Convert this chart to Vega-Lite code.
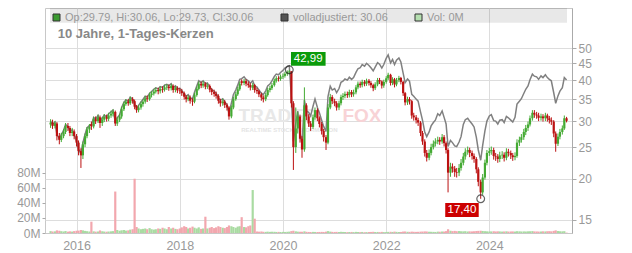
{
"$schema": "https://vega.github.io/schema/vega-lite/v6.json",
"width": 527, "height": 225,
"autosize": {"type": "none"},
"padding": {"left": 45, "top": 8, "right": 60, "bottom": 20},
"background": "white",
"config": {"view": {"stroke": "#c8c8c8"}, "font": "Liberation Sans", "axis": {"labelFont": "Liberation Sans", "labelColor": "#999", "labelFontSize": 12}},
"datasets": {
"p": [
{"d":"2015-07-01","o":29.3,"h":30.4,"l":28.6,"c":29.7,"a":30.0,"v":2.5},
{"d":"2015-07-15","o":29.7,"h":30.3,"l":28.4,"c":29.0,"a":29.3,"v":2.0},
{"d":"2015-08-01","o":29.0,"h":30.0,"l":28.5,"c":29.5,"a":29.8,"v":2.2},
{"d":"2015-08-15","o":29.5,"h":29.8,"l":26.2,"c":27.0,"a":27.3,"v":3.5},
{"d":"2015-09-01","o":27.0,"h":27.6,"l":25.5,"c":26.3,"a":26.6,"v":3.0},
{"d":"2015-09-15","o":26.3,"h":27.6,"l":25.9,"c":27.0,"a":27.3,"v":2.4},
{"d":"2015-10-01","o":27.0,"h":28.4,"l":26.6,"c":27.8,"a":28.1,"v":2.0},
{"d":"2015-10-15","o":27.8,"h":29.6,"l":27.4,"c":29.0,"a":29.3,"v":2.6},
{"d":"2015-11-01","o":29.0,"h":29.6,"l":28.0,"c":28.6,"a":28.9,"v":1.8},
{"d":"2015-11-15","o":28.6,"h":29.0,"l":27.0,"c":27.6,"a":27.9,"v":2.2},
{"d":"2015-12-01","o":27.6,"h":28.6,"l":27.0,"c":27.9,"a":28.2,"v":1.9},
{"d":"2015-12-15","o":27.9,"h":28.3,"l":26.4,"c":27.0,"a":27.3,"v":2.5},
{"d":"2016-01-01","o":27.0,"h":27.4,"l":25.1,"c":25.8,"a":26.1,"v":3.0},
{"d":"2016-01-15","o":25.8,"h":26.2,"l":23.6,"c":24.3,"a":24.6,"v":3.2},
{"d":"2016-02-01","o":24.3,"h":24.8,"l":21.6,"c":23.6,"a":23.9,"v":4.0},
{"d":"2016-02-15","o":23.6,"h":26.0,"l":23.0,"c":25.5,"a":25.8,"v":3.5},
{"d":"2016-03-01","o":25.5,"h":27.5,"l":25.0,"c":27.0,"a":27.3,"v":2.8},
{"d":"2016-03-15","o":27.0,"h":28.8,"l":26.6,"c":28.3,"a":28.6,"v":2.4},
{"d":"2016-04-01","o":28.3,"h":29.4,"l":27.6,"c":28.8,"a":29.1,"v":2.0},
{"d":"2016-04-15","o":29.4,"h":29.9,"l":28.2,"c":28.9,"a":29.2,"v":15},
{"d":"2016-05-01","o":28.9,"h":30.9,"l":28.5,"c":30.4,"a":30.8,"v":2.2},
{"d":"2016-05-15","o":30.4,"h":31.0,"l":29.4,"c":30.0,"a":30.4,"v":1.8},
{"d":"2016-06-01","o":30.0,"h":31.4,"l":29.6,"c":30.8,"a":31.2,"v":2.0},
{"d":"2016-06-15","o":30.8,"h":31.2,"l":28.6,"c":29.6,"a":30.0,"v":3.4},
{"d":"2016-07-01","o":29.6,"h":30.9,"l":29.0,"c":30.3,"a":30.7,"v":2.3},
{"d":"2016-07-15","o":30.3,"h":31.5,"l":29.8,"c":30.9,"a":31.3,"v":1.9},
{"d":"2016-08-01","o":30.9,"h":31.4,"l":29.9,"c":30.5,"a":30.9,"v":1.7},
{"d":"2016-08-15","o":30.5,"h":31.8,"l":30.0,"c":31.2,"a":31.6,"v":2.0},
{"d":"2016-09-01","o":31.2,"h":32.3,"l":30.7,"c":31.6,"a":32.0,"v":2.2},
{"d":"2016-09-15","o":31.6,"h":32.6,"l":31.0,"c":32.0,"a":32.4,"v":2.5},
{"d":"2016-10-01","o":32.0,"h":32.3,"l":29.0,"c":29.5,"a":29.9,"v":55},
{"d":"2016-10-15","o":29.5,"h":30.9,"l":29.0,"c":30.3,"a":30.7,"v":4.0},
{"d":"2016-11-01","o":30.3,"h":31.6,"l":29.8,"c":31.0,"a":31.4,"v":3.0},
{"d":"2016-11-15","o":31.0,"h":33.2,"l":30.5,"c":32.6,"a":33.0,"v":3.6},
{"d":"2016-12-01","o":32.6,"h":34.4,"l":32.2,"c":33.8,"a":34.2,"v":4.0},
{"d":"2016-12-15","o":33.8,"h":35.0,"l":33.4,"c":34.4,"a":34.8,"v":3.2},
{"d":"2017-01-01","o":34.4,"h":35.0,"l":33.4,"c":34.0,"a":34.5,"v":3.5},
{"d":"2017-01-15","o":34.0,"h":35.6,"l":33.6,"c":35.0,"a":35.5,"v":4.5},
{"d":"2017-02-01","o":35.0,"h":35.5,"l":33.9,"c":34.5,"a":35.0,"v":5.0},
{"d":"2017-02-15","o":34.5,"h":34.9,"l":32.6,"c":33.2,"a":33.7,"v":72},
{"d":"2017-03-01","o":33.2,"h":33.6,"l":31.8,"c":32.4,"a":32.9,"v":8.0},
{"d":"2017-03-15","o":32.4,"h":33.6,"l":31.9,"c":33.0,"a":33.5,"v":6.0},
{"d":"2017-04-01","o":33.0,"h":34.4,"l":32.5,"c":33.8,"a":34.3,"v":5.0},
{"d":"2017-04-15","o":33.8,"h":35.0,"l":33.2,"c":34.4,"a":34.9,"v":5.5},
{"d":"2017-05-01","o":34.4,"h":35.8,"l":33.9,"c":35.2,"a":35.7,"v":6.0},
{"d":"2017-05-15","o":35.2,"h":35.9,"l":34.3,"c":35.0,"a":35.5,"v":5.0},
{"d":"2017-06-01","o":35.0,"h":36.6,"l":34.6,"c":36.0,"a":36.5,"v":6.5},
{"d":"2017-06-15","o":36.0,"h":37.0,"l":35.4,"c":36.4,"a":36.9,"v":5.0},
{"d":"2017-07-01","o":36.4,"h":37.6,"l":35.9,"c":36.9,"a":37.5,"v":4.5},
{"d":"2017-07-15","o":36.9,"h":38.0,"l":36.4,"c":37.3,"a":37.9,"v":5.0},
{"d":"2017-08-01","o":37.3,"h":37.9,"l":36.2,"c":37.0,"a":37.6,"v":6.0},
{"d":"2017-08-15","o":37.0,"h":38.3,"l":36.4,"c":37.6,"a":38.2,"v":5.5},
{"d":"2017-09-01","o":37.6,"h":38.3,"l":36.6,"c":37.4,"a":38.0,"v":7.0},
{"d":"2017-09-15","o":37.4,"h":38.7,"l":36.9,"c":38.0,"a":38.6,"v":6.0},
{"d":"2017-10-01","o":38.0,"h":38.9,"l":37.3,"c":38.2,"a":38.8,"v":5.0},
{"d":"2017-10-15","o":38.2,"h":38.8,"l":37.1,"c":37.8,"a":38.4,"v":8.0},
{"d":"2017-11-01","o":37.8,"h":39.0,"l":37.2,"c":38.4,"a":39.0,"v":6.0},
{"d":"2017-11-15","o":38.4,"h":38.8,"l":36.6,"c":37.3,"a":37.9,"v":7.0},
{"d":"2017-12-01","o":37.3,"h":38.4,"l":36.7,"c":37.8,"a":38.4,"v":5.5},
{"d":"2017-12-15","o":37.8,"h":38.3,"l":36.5,"c":37.2,"a":37.8,"v":5.0},
{"d":"2018-01-01","o":37.2,"h":37.9,"l":36.3,"c":37.0,"a":37.7,"v":6.0},
{"d":"2018-01-15","o":37.0,"h":37.6,"l":35.8,"c":36.5,"a":37.2,"v":7.5},
{"d":"2018-02-01","o":36.5,"h":36.9,"l":34.9,"c":35.6,"a":36.3,"v":9.0},
{"d":"2018-02-15","o":35.6,"h":36.0,"l":34.2,"c":35.0,"a":35.7,"v":8.0},
{"d":"2018-03-01","o":35.0,"h":36.0,"l":34.5,"c":35.4,"a":36.1,"v":6.0},
{"d":"2018-03-15","o":35.4,"h":35.9,"l":33.9,"c":34.6,"a":35.3,"v":7.0},
{"d":"2018-04-01","o":34.6,"h":35.2,"l":33.4,"c":34.4,"a":35.1,"v":8.5},
{"d":"2018-04-15","o":34.4,"h":36.6,"l":34.0,"c":36.0,"a":36.7,"v":7.0},
{"d":"2018-05-01","o":36.0,"h":38.2,"l":35.6,"c":37.6,"a":38.4,"v":6.0},
{"d":"2018-05-15","o":37.6,"h":39.6,"l":37.2,"c":39.0,"a":39.8,"v":7.5},
{"d":"2018-06-01","o":39.0,"h":39.6,"l":37.8,"c":38.5,"a":39.3,"v":5.5},
{"d":"2018-06-15","o":38.5,"h":39.7,"l":37.9,"c":39.0,"a":39.8,"v":6.0},
{"d":"2018-07-01","o":39.0,"h":39.4,"l":37.5,"c":38.2,"a":39.0,"v":21.6},
{"d":"2018-07-15","o":38.2,"h":39.1,"l":37.6,"c":38.4,"a":39.2,"v":6.0},
{"d":"2018-08-01","o":38.4,"h":38.8,"l":36.7,"c":37.4,"a":38.1,"v":7.0},
{"d":"2018-08-15","o":37.4,"h":37.8,"l":36.0,"c":36.8,"a":37.5,"v":8.0},
{"d":"2018-09-01","o":36.8,"h":37.4,"l":35.6,"c":36.3,"a":37.0,"v":6.5},
{"d":"2018-09-15","o":36.3,"h":36.9,"l":35.1,"c":35.8,"a":36.5,"v":7.5},
{"d":"2018-10-01","o":35.8,"h":36.2,"l":33.9,"c":34.6,"a":35.3,"v":9.0},
{"d":"2018-10-15","o":34.6,"h":35.1,"l":33.2,"c":34.0,"a":34.7,"v":8.0},
{"d":"2018-11-01","o":34.0,"h":35.1,"l":33.4,"c":34.4,"a":35.1,"v":7.0},
{"d":"2018-11-15","o":34.4,"h":34.8,"l":32.9,"c":33.6,"a":34.3,"v":6.5},
{"d":"2018-12-01","o":33.6,"h":34.0,"l":32.3,"c":33.0,"a":33.7,"v":8.0},
{"d":"2018-12-15","o":33.0,"h":33.3,"l":30.3,"c":31.0,"a":31.6,"v":10.0},
{"d":"2019-01-01","o":31.0,"h":33.5,"l":30.6,"c":33.0,"a":34.0,"v":9.0},
{"d":"2019-01-15","o":33.0,"h":35.6,"l":32.6,"c":35.0,"a":36.1,"v":8.0},
{"d":"2019-02-01","o":35.0,"h":36.8,"l":34.6,"c":36.2,"a":37.3,"v":7.0},
{"d":"2019-02-15","o":36.2,"h":38.1,"l":35.8,"c":37.5,"a":38.6,"v":8.5},
{"d":"2019-03-01","o":37.5,"h":39.6,"l":37.1,"c":39.0,"a":40.2,"v":9.0},
{"d":"2019-03-15","o":39.7,"h":40.2,"l":38.5,"c":39.2,"a":40.4,"v":21},
{"d":"2019-04-01","o":39.2,"h":40.3,"l":38.6,"c":39.7,"a":40.9,"v":8.0},
{"d":"2019-04-15","o":39.7,"h":40.2,"l":38.3,"c":39.0,"a":40.2,"v":7.5},
{"d":"2019-05-01","o":39.0,"h":39.6,"l":37.9,"c":38.6,"a":39.8,"v":9.0},
{"d":"2019-05-15","o":38.6,"h":39.1,"l":37.2,"c":38.0,"a":39.1,"v":10.0},
{"d":"2019-06-01","o":37.9,"h":39.2,"l":37.3,"c":38.6,"a":39.8,"v":57},
{"d":"2019-06-15","o":38.6,"h":38.9,"l":36.6,"c":37.3,"a":38.4,"v":19},
{"d":"2019-07-01","o":37.3,"h":37.9,"l":36.3,"c":37.0,"a":38.1,"v":2.0},
{"d":"2019-07-15","o":37.0,"h":37.4,"l":35.5,"c":36.2,"a":37.3,"v":1.8},
{"d":"2019-08-01","o":36.2,"h":36.6,"l":34.6,"c":35.4,"a":36.5,"v":2.0},
{"d":"2019-08-15","o":35.4,"h":35.9,"l":34.2,"c":35.0,"a":36.1,"v":1.6},
{"d":"2019-09-01","o":35.0,"h":36.6,"l":34.5,"c":36.0,"a":37.1,"v":1.5},
{"d":"2019-09-15","o":36.0,"h":37.9,"l":35.6,"c":37.3,"a":38.4,"v":1.8},
{"d":"2019-10-01","o":37.3,"h":38.4,"l":36.7,"c":37.8,"a":38.9,"v":1.5},
{"d":"2019-10-15","o":37.8,"h":39.2,"l":37.3,"c":38.6,"a":39.8,"v":1.7},
{"d":"2019-11-01","o":38.6,"h":40.4,"l":38.2,"c":39.8,"a":41.0,"v":1.6},
{"d":"2019-11-15","o":39.8,"h":41.1,"l":39.3,"c":40.5,"a":41.7,"v":1.4},
{"d":"2019-12-01","o":40.5,"h":41.1,"l":39.6,"c":40.3,"a":41.5,"v":1.5},
{"d":"2019-12-15","o":40.3,"h":41.6,"l":39.8,"c":41.0,"a":42.2,"v":1.3},
{"d":"2020-01-01","o":41.0,"h":41.9,"l":40.3,"c":41.2,"a":42.8,"v":1.5},
{"d":"2020-01-15","o":41.2,"h":42.4,"l":40.7,"c":41.8,"a":43.5,"v":1.4},
{"d":"2020-02-01","o":41.8,"h":42.8,"l":41.2,"c":42.3,"a":44.0,"v":1.6},
{"d":"2020-02-15","o":42.3,"h":42.99,"l":41.6,"c":42.5,"a":44.2,"v":1.8},
{"d":"2020-03-01","o":42.5,"h":42.6,"l":33.0,"c":34.0,"a":35.4,"v":2.5},
{"d":"2020-03-15","o":34.0,"h":34.5,"l":21.3,"c":25.0,"a":26.0,"v":3.0},
{"d":"2020-04-01","o":25.0,"h":33.0,"l":24.0,"c":28.5,"a":29.6,"v":2.2},
{"d":"2020-04-15","o":28.5,"h":32.0,"l":27.5,"c":31.0,"a":32.2,"v":1.8},
{"d":"2020-05-01","o":31.0,"h":31.4,"l":25.8,"c":26.5,"a":27.6,"v":1.6},
{"d":"2020-05-15","o":26.5,"h":27.0,"l":23.2,"c":24.6,"a":25.6,"v":1.7},
{"d":"2020-06-01","o":24.6,"h":38.0,"l":24.2,"c":33.5,"a":34.8,"v":2.2},
{"d":"2020-06-15","o":33.5,"h":34.0,"l":30.2,"c":31.0,"a":32.2,"v":1.6},
{"d":"2020-07-01","o":31.0,"h":31.5,"l":28.8,"c":29.5,"a":31.9,"v":1.4},
{"d":"2020-07-15","o":29.5,"h":30.0,"l":28.0,"c":28.8,"a":31.1,"v":1.3},
{"d":"2020-08-01","o":28.8,"h":31.4,"l":28.4,"c":30.8,"a":33.3,"v":1.5},
{"d":"2020-08-15","o":30.8,"h":33.0,"l":30.3,"c":32.4,"a":35.0,"v":1.4},
{"d":"2020-09-01","o":32.4,"h":32.8,"l":30.0,"c":30.6,"a":33.0,"v":1.3},
{"d":"2020-09-15","o":30.6,"h":31.0,"l":28.7,"c":29.4,"a":31.8,"v":1.4},
{"d":"2020-10-01","o":29.4,"h":29.8,"l":27.3,"c":28.0,"a":30.2,"v":1.5},
{"d":"2020-10-15","o":28.0,"h":28.4,"l":26.0,"c":26.8,"a":28.9,"v":1.4},
{"d":"2020-11-01","o":26.8,"h":27.2,"l":24.5,"c":25.8,"a":27.9,"v":1.8},
{"d":"2020-11-15","o":25.8,"h":33.8,"l":25.5,"c":33.0,"a":35.6,"v":2.5},
{"d":"2020-12-01","o":33.0,"h":36.3,"l":32.6,"c":35.5,"a":38.3,"v":1.8},
{"d":"2020-12-15","o":35.5,"h":36.0,"l":33.8,"c":34.5,"a":37.3,"v":1.5},
{"d":"2021-01-01","o":34.5,"h":35.1,"l":33.3,"c":34.0,"a":37.7,"v":1.4},
{"d":"2021-01-15","o":34.0,"h":34.5,"l":32.3,"c":33.0,"a":36.6,"v":1.5},
{"d":"2021-02-01","o":33.0,"h":34.6,"l":32.4,"c":34.0,"a":37.7,"v":1.3},
{"d":"2021-02-15","o":34.0,"h":36.1,"l":33.5,"c":35.5,"a":39.4,"v":1.6},
{"d":"2021-03-01","o":35.5,"h":36.5,"l":34.8,"c":35.8,"a":39.7,"v":1.4},
{"d":"2021-03-15","o":35.8,"h":36.9,"l":35.2,"c":36.3,"a":40.3,"v":1.3},
{"d":"2021-04-01","o":36.3,"h":36.9,"l":35.3,"c":36.0,"a":40.0,"v":1.2},
{"d":"2021-04-15","o":36.0,"h":37.4,"l":35.4,"c":36.8,"a":40.8,"v":1.3},
{"d":"2021-05-01","o":36.8,"h":37.3,"l":35.5,"c":36.2,"a":40.2,"v":1.4},
{"d":"2021-05-15","o":36.2,"h":37.4,"l":35.6,"c":36.7,"a":40.7,"v":1.2},
{"d":"2021-06-01","o":36.7,"h":38.6,"l":36.2,"c":38.0,"a":42.2,"v":1.5},
{"d":"2021-06-15","o":38.0,"h":39.6,"l":37.5,"c":39.0,"a":43.3,"v":1.3},
{"d":"2021-07-01","o":39.0,"h":39.6,"l":37.9,"c":38.6,"a":43.6,"v":1.2},
{"d":"2021-07-15","o":38.6,"h":40.1,"l":38.0,"c":39.5,"a":44.6,"v":1.4},
{"d":"2021-08-01","o":39.5,"h":40.0,"l":38.3,"c":39.0,"a":44.1,"v":1.1},
{"d":"2021-08-15","o":39.0,"h":40.4,"l":38.4,"c":39.8,"a":45.0,"v":1.2},
{"d":"2021-09-01","o":39.8,"h":40.3,"l":38.5,"c":39.2,"a":44.3,"v":1.3},
{"d":"2021-09-15","o":39.2,"h":39.7,"l":37.9,"c":38.6,"a":43.6,"v":1.4},
{"d":"2021-10-01","o":38.6,"h":39.0,"l":37.0,"c":37.8,"a":42.7,"v":1.6},
{"d":"2021-10-15","o":37.8,"h":39.4,"l":37.3,"c":38.8,"a":43.8,"v":1.3},
{"d":"2021-11-01","o":38.8,"h":40.6,"l":38.3,"c":40.0,"a":45.2,"v":1.4},
{"d":"2021-11-15","o":40.0,"h":40.6,"l":38.9,"c":39.6,"a":44.7,"v":1.2},
{"d":"2021-12-01","o":39.6,"h":39.9,"l":37.7,"c":38.5,"a":43.5,"v":1.5},
{"d":"2021-12-15","o":38.5,"h":40.1,"l":37.9,"c":39.5,"a":44.6,"v":1.2},
{"d":"2022-01-01","o":39.5,"h":41.1,"l":39.0,"c":40.5,"a":46.6,"v":1.3},
{"d":"2022-01-15","o":40.5,"h":42.1,"l":40.0,"c":41.5,"a":47.7,"v":1.5},
{"d":"2022-02-01","o":41.5,"h":41.8,"l":38.5,"c":39.2,"a":45.1,"v":1.6},
{"d":"2022-02-15","o":39.2,"h":40.8,"l":38.6,"c":40.2,"a":46.2,"v":1.4},
{"d":"2022-03-01","o":40.2,"h":40.6,"l":38.0,"c":38.8,"a":44.6,"v":1.8},
{"d":"2022-03-15","o":38.8,"h":40.6,"l":38.3,"c":40.0,"a":46.0,"v":1.5},
{"d":"2022-04-01","o":40.0,"h":41.2,"l":39.4,"c":40.6,"a":46.7,"v":1.3},
{"d":"2022-04-15","o":40.6,"h":40.9,"l":38.8,"c":39.5,"a":45.4,"v":1.4},
{"d":"2022-05-01","o":39.5,"h":39.8,"l":35.8,"c":36.5,"a":42.0,"v":1.9},
{"d":"2022-05-15","o":36.5,"h":36.8,"l":33.5,"c":34.2,"a":39.3,"v":2.0},
{"d":"2022-06-01","o":34.2,"h":35.6,"l":33.6,"c":35.0,"a":40.3,"v":1.6},
{"d":"2022-06-15","o":35.0,"h":35.5,"l":33.7,"c":34.5,"a":39.7,"v":1.5},
{"d":"2022-07-01","o":34.5,"h":34.8,"l":30.5,"c":31.2,"a":36.2,"v":1.8},
{"d":"2022-07-15","o":31.2,"h":31.8,"l":30.1,"c":30.8,"a":35.7,"v":1.6},
{"d":"2022-08-01","o":30.8,"h":31.3,"l":29.5,"c":30.2,"a":35.0,"v":1.5},
{"d":"2022-08-15","o":30.2,"h":30.7,"l":29.0,"c":29.7,"a":34.5,"v":1.6},
{"d":"2022-09-01","o":29.7,"h":30.0,"l":27.0,"c":27.6,"a":32.0,"v":1.8},
{"d":"2022-09-15","o":27.6,"h":28.0,"l":25.4,"c":26.0,"a":30.2,"v":1.9},
{"d":"2022-10-01","o":26.0,"h":26.4,"l":23.4,"c":24.0,"a":27.8,"v":2.1},
{"d":"2022-10-15","o":24.0,"h":24.5,"l":22.6,"c":23.2,"a":26.9,"v":2.0},
{"d":"2022-11-01","o":23.2,"h":24.6,"l":22.8,"c":24.0,"a":27.8,"v":1.7},
{"d":"2022-11-15","o":24.0,"h":25.6,"l":23.6,"c":25.0,"a":29.0,"v":1.6},
{"d":"2022-12-01","o":25.0,"h":26.2,"l":24.6,"c":25.6,"a":29.7,"v":1.5},
{"d":"2022-12-15","o":25.6,"h":26.6,"l":25.1,"c":26.0,"a":30.2,"v":1.4},
{"d":"2023-01-01","o":26.0,"h":26.9,"l":25.5,"c":26.3,"a":31.6,"v":1.8},
{"d":"2023-01-15","o":26.3,"h":26.8,"l":25.4,"c":26.0,"a":31.2,"v":1.7},
{"d":"2023-02-01","o":26.0,"h":27.4,"l":25.6,"c":26.8,"a":32.2,"v":2.0},
{"d":"2023-02-15","o":26.8,"h":27.2,"l":25.1,"c":25.7,"a":30.8,"v":1.9},
{"d":"2023-03-01","o":25.7,"h":26.0,"l":23.9,"c":24.5,"a":29.4,"v":2.5},
{"d":"2023-03-15","o":24.5,"h":24.8,"l":18.2,"c":20.9,"a":25.1,"v":5.0},
{"d":"2023-04-01","o":20.9,"h":22.4,"l":20.3,"c":21.8,"a":26.2,"v":3.0},
{"d":"2023-04-15","o":21.8,"h":22.3,"l":20.9,"c":21.5,"a":25.8,"v":2.5},
{"d":"2023-05-01","o":21.5,"h":21.9,"l":20.3,"c":21.0,"a":25.2,"v":2.8},
{"d":"2023-05-15","o":21.0,"h":21.6,"l":20.2,"c":20.9,"a":25.1,"v":2.4},
{"d":"2023-06-01","o":20.9,"h":22.2,"l":20.4,"c":21.6,"a":25.9,"v":2.6},
{"d":"2023-06-15","o":21.6,"h":23.0,"l":21.2,"c":22.4,"a":26.9,"v":2.3},
{"d":"2023-07-01","o":22.4,"h":24.0,"l":22.0,"c":23.4,"a":29.3,"v":2.2},
{"d":"2023-07-15","o":23.4,"h":24.8,"l":22.9,"c":24.2,"a":30.3,"v":2.4},
{"d":"2023-08-01","o":24.2,"h":25.1,"l":23.7,"c":24.5,"a":30.6,"v":2.0},
{"d":"2023-08-15","o":24.5,"h":24.9,"l":23.3,"c":24.0,"a":30.0,"v":2.2},
{"d":"2023-09-01","o":24.0,"h":24.4,"l":22.9,"c":23.5,"a":29.4,"v":2.1},
{"d":"2023-09-15","o":23.5,"h":23.9,"l":22.4,"c":23.0,"a":28.8,"v":2.3},
{"d":"2023-10-01","o":23.0,"h":23.3,"l":20.8,"c":21.4,"a":26.8,"v":2.6},
{"d":"2023-10-15","o":21.4,"h":21.7,"l":19.0,"c":19.6,"a":24.5,"v":2.8},
{"d":"2023-11-01","o":19.6,"h":19.9,"l":17.4,"c":18.2,"a":22.8,"v":3.0},
{"d":"2023-11-15","o":18.2,"h":20.7,"l":17.9,"c":20.2,"a":25.3,"v":2.7},
{"d":"2023-12-01","o":20.2,"h":22.9,"l":19.9,"c":22.4,"a":28.0,"v":2.4},
{"d":"2023-12-15","o":22.4,"h":24.5,"l":22.0,"c":24.0,"a":30.0,"v":2.2},
{"d":"2024-01-01","o":24.0,"h":24.9,"l":23.5,"c":24.3,"a":31.1,"v":2.0},
{"d":"2024-01-15","o":24.3,"h":25.1,"l":23.7,"c":24.5,"a":31.4,"v":2.1},
{"d":"2024-02-01","o":24.5,"h":24.9,"l":22.9,"c":23.5,"a":30.1,"v":2.3},
{"d":"2024-02-15","o":23.5,"h":24.0,"l":22.7,"c":23.4,"a":30.0,"v":2.0},
{"d":"2024-03-01","o":23.4,"h":23.8,"l":22.4,"c":23.0,"a":29.4,"v":2.2},
{"d":"2024-03-15","o":23.0,"h":24.2,"l":22.5,"c":23.6,"a":30.2,"v":2.1},
{"d":"2024-04-01","o":23.6,"h":24.3,"l":23.0,"c":23.7,"a":30.3,"v":1.9},
{"d":"2024-04-15","o":23.7,"h":24.1,"l":22.6,"c":23.2,"a":29.7,"v":2.0},
{"d":"2024-05-01","o":23.2,"h":24.8,"l":22.8,"c":24.2,"a":31.0,"v":2.2},
{"d":"2024-05-15","o":24.2,"h":24.7,"l":23.4,"c":24.0,"a":30.7,"v":1.9},
{"d":"2024-06-01","o":24.0,"h":24.4,"l":23.0,"c":23.6,"a":30.2,"v":2.0},
{"d":"2024-06-15","o":23.6,"h":24.0,"l":22.7,"c":23.3,"a":29.8,"v":2.1},
{"d":"2024-07-01","o":23.3,"h":24.1,"l":22.8,"c":23.5,"a":30.8,"v":1.9},
{"d":"2024-07-15","o":23.5,"h":26.4,"l":23.2,"c":25.8,"a":33.8,"v":2.4},
{"d":"2024-08-01","o":25.8,"h":26.9,"l":25.2,"c":26.3,"a":34.5,"v":2.2},
{"d":"2024-08-15","o":26.3,"h":27.4,"l":25.8,"c":26.8,"a":35.1,"v":2.0},
{"d":"2024-09-01","o":26.8,"h":28.4,"l":26.3,"c":27.8,"a":36.4,"v":2.1},
{"d":"2024-09-15","o":27.8,"h":29.2,"l":27.2,"c":28.6,"a":37.5,"v":2.0},
{"d":"2024-10-01","o":28.6,"h":29.9,"l":28.0,"c":29.3,"a":38.4,"v":2.2},
{"d":"2024-10-15","o":29.3,"h":31.2,"l":28.9,"c":30.6,"a":40.1,"v":2.3},
{"d":"2024-11-01","o":30.6,"h":32.4,"l":30.1,"c":31.8,"a":41.7,"v":2.5},
{"d":"2024-11-15","o":31.8,"h":32.4,"l":30.7,"c":31.4,"a":41.1,"v":2.1},
{"d":"2024-12-01","o":31.4,"h":32.0,"l":30.5,"c":31.2,"a":40.9,"v":2.0},
{"d":"2024-12-15","o":31.2,"h":31.8,"l":30.0,"c":30.7,"a":40.2,"v":1.9},
{"d":"2025-01-01","o":30.7,"h":31.6,"l":30.1,"c":31.0,"a":41.2,"v":2.0},
{"d":"2025-01-15","o":31.0,"h":31.5,"l":29.9,"c":30.6,"a":40.7,"v":2.2},
{"d":"2025-02-01","o":30.6,"h":31.8,"l":30.0,"c":31.2,"a":41.5,"v":2.1},
{"d":"2025-02-15","o":31.2,"h":31.6,"l":29.9,"c":30.6,"a":40.7,"v":2.3},
{"d":"2025-03-01","o":30.6,"h":31.1,"l":29.5,"c":30.2,"a":40.2,"v":2.4},
{"d":"2025-03-15","o":30.2,"h":30.8,"l":29.2,"c":29.9,"a":39.8,"v":2.2},
{"d":"2025-04-01","o":29.9,"h":30.2,"l":26.8,"c":27.5,"a":36.6,"v":2.8},
{"d":"2025-04-15","o":27.5,"h":27.9,"l":24.2,"c":25.6,"a":34.0,"v":3.5},
{"d":"2025-05-01","o":25.6,"h":27.5,"l":25.2,"c":26.9,"a":35.8,"v":2.6},
{"d":"2025-05-15","o":26.9,"h":28.4,"l":26.4,"c":27.8,"a":37.0,"v":2.3},
{"d":"2025-06-01","o":27.8,"h":29.1,"l":27.3,"c":28.5,"a":37.9,"v":2.2},
{"d":"2025-06-15","o":28.5,"h":31.2,"l":28.2,"c":30.6,"a":40.7,"v":2.4},
{"d":"2025-07-01","o":30.6,"h":30.9,"l":29.73,"c":30.06,"a":40.0,"v":0.5}
],
"lg": [{"k":"Op:29.79, Hi:30.06, Lo:29.73, Cl:30.06"},{"k":"volladjustiert: 30.06"},{"k":"Vol: 0M"}],
"marks": [{"d":"2020-02-15","y":42.99},{"d":"2023-11-01","y":17.4}]
},
"layer": [
{
 "data": {"name": "p"},
 "mark": {"type": "bar", "size": 2.2},
 "encoding": {
  "x": {"field": "d", "type": "temporal", "title": null,
        "scale": {"domain": [{"year":2015,"month":6,"date":27},{"year":2025,"month":7,"date":4}]},
        "axis": {"values": [{"year":2016,"month":1,"date":1},{"year":2018,"month":1,"date":1},{"year":2020,"month":1,"date":1},{"year":2022,"month":1,"date":1},{"year":2024,"month":1,"date":1}],
                 "format": "%Y", "grid": true, "gridColor": "#dddddd", "ticks": false, "domain": false, "labelPadding": 6, "labelColor": "#999", "labelFontSize": 12.5}},
  "y": {"field": "v", "type": "quantitative", "title": null,
        "scale": {"domain": [0, 298.5], "nice": false},
        "axis": {"orient": "left", "values": [0,20,40,60,80], "labelExpr": "datum.value + 'M'", "grid": false, "domain": false, "tickSize": 3, "tickColor": "#aaa", "labelPadding": 2, "labelColor": "#999", "labelFontSize": 12}},
  "color": {"condition": {"test": "datum.c >= datum.o", "value": "#a9dba2"}, "value": "#f2a7ae"}
 }
},
{
 "layer": [
  {
   "data": {"values": [{}]},
   "mark": {"type": "rect", "fill": "#000", "opacity": 0.09},
   "encoding": {
    "x": {"datum": {"year":2015,"month":6,"date":27}, "type": "temporal"},
    "x2": {"datum": {"year":2025,"month":7,"date":4}},
    "y": {"datum": 66.3, "type": "quantitative"},
    "y2": {"datum": 59.8}
   }
  },
  {
   "data": {"values": [{}]},
   "mark": {"type": "text", "text": "TRADER", "font": "Liberation Sans", "fontWeight": "bold", "fontSize": 19, "fill": "#e8e8e8", "align": "left", "baseline": "alphabetic"},
   "encoding": {"x": {"datum": {"year":2019,"month":2,"date":20}, "type": "temporal"}, "y": {"datum": 29.8, "type": "quantitative"}}
  },
  {
   "data": {"values": [{}]},
   "mark": {"type": "text", "text": "FOX", "font": "Liberation Sans", "fontWeight": "bold", "fontSize": 19, "fill": "#f8d3d6", "align": "left", "baseline": "alphabetic"},
   "encoding": {"x": {"datum": {"year":2021,"month":2,"date":25}, "type": "temporal"}, "y": {"datum": 29.8, "type": "quantitative"}}
  },
  {
   "data": {"values": [{}]},
   "mark": {"type": "text", "text": "REALTIME STOCK INFORMATION", "font": "Liberation Sans", "fontWeight": "bold", "fontSize": 6, "fill": "#e4e4e4", "align": "left", "baseline": "middle"},
   "encoding": {"x": {"datum": {"year":2019,"month":3,"date":12}, "type": "temporal"}, "y": {"datum": 28.2, "type": "quantitative"}}
  },
  {
   "data": {"name": "p"},
   "mark": {"type": "line", "color": "#808080", "strokeWidth": 1.5},
   "encoding": {
    "x": {"field": "d", "type": "temporal", "title": null},
    "y": {"field": "a", "type": "quantitative", "title": null,
          "scale": {"type": "log", "domain": [13.69, 66.3], "nice": false, "zero": false},
          "axis": {"orient": "right", "values": [15,20,25,30,35,40,45,50], "format": "d", "grid": true, "gridColor": "#dddddd", "tickSize": 4, "tickColor": "#aaa", "domainColor": "#aaa", "labelPadding": 2, "labelColor": "#999", "labelFontSize": 12}}
   }
  },
  {
   "data": {"name": "p"},
   "mark": {"type": "rule", "strokeWidth": 1},
   "encoding": {
    "x": {"field": "d", "type": "temporal", "title": null},
    "y": {"field": "l", "type": "quantitative", "title": null},
    "y2": {"field": "h"},
    "color": {"condition": {"test": "datum.c >= datum.o", "value": "#44aa33"}, "value": "#bb1111"}
   }
  },
  {
   "data": {"name": "p"},
   "mark": {"type": "bar", "size": 2.2},
   "encoding": {
    "x": {"field": "d", "type": "temporal", "title": null},
    "y": {"field": "o", "type": "quantitative", "title": null},
    "y2": {"field": "c"},
    "color": {"condition": {"test": "datum.c >= datum.o", "value": "#44aa33"}, "value": "#bb1111"}
   }
  },
  {
   "data": {"name": "marks"},
   "mark": {"type": "point", "filled": false, "size": 60, "stroke": "#222", "strokeWidth": 1.2},
   "encoding": {
    "x": {"field": "d", "type": "temporal", "title": null},
    "y": {"field": "y", "type": "quantitative", "title": null}
   }
  },
  {
   "data": {"values": [{}]},
   "mark": {"type": "rect", "fill": "#0b9b0b"},
   "encoding": {
    "x": {"datum": {"year":2020,"month":2,"date":27}, "type": "temporal"},
    "x2": {"datum": {"year":2020,"month":10,"date":29}},
    "y": {"datum": 48.7, "type": "quantitative"},
    "y2": {"datum": 44.2}
   }
  },
  {
   "data": {"values": [{}]},
   "mark": {"type": "text", "text": "42,99", "font": "Liberation Sans", "fontSize": 11.5, "fill": "white", "align": "center", "baseline": "middle"},
   "encoding": {"x": {"datum": {"year":2020,"month":6,"date":28}, "type": "temporal"}, "y": {"datum": 46.4, "type": "quantitative"}}
  },
  {
   "data": {"values": [{}]},
   "mark": {"type": "rect", "fill": "#cc0000"},
   "encoding": {
    "x": {"datum": {"year":2023,"month":2,"date":23}, "type": "temporal"},
    "x2": {"datum": {"year":2023,"month":10,"date":18}},
    "y": {"datum": 16.9, "type": "quantitative"},
    "y2": {"datum": 15.32}
   }
  },
  {
   "data": {"values": [{}]},
   "mark": {"type": "text", "text": "17,40", "font": "Liberation Sans", "fontSize": 11.5, "fill": "white", "align": "center", "baseline": "middle"},
   "encoding": {"x": {"datum": {"year":2023,"month":6,"date":21}, "type": "temporal"}, "y": {"datum": 16.09, "type": "quantitative"}}
  },
  {
   "data": {"values": [{}]},
   "mark": {"type": "text", "text": "10 Jahre, 1-Tages-Kerzen", "font": "Liberation Sans", "fontWeight": "bold", "fontSize": 13, "fill": "#888888", "align": "left", "baseline": "middle"},
   "encoding": {"x": {"datum": {"year":2015,"month":8,"date":21}, "type": "temporal"}, "y": {"datum": 55.4, "type": "quantitative"}}
  },
  {
   "data": {"name": "lg"},
   "mark": {"type": "point", "filled": true, "opacity": 0, "shape": "square"},
   "encoding": {
    "color": {"field": "k", "type": "nominal",
      "scale": {"domain": ["Op:29.79, Hi:30.06, Lo:29.73, Cl:30.06", "volladjustiert: 30.06", "Vol: 0M"], "range": ["#3a9a30", "#555555", "#b5dfb0"]},
      "legend": {"orient": "none", "legendX": 6, "legendY": 4, "direction": "horizontal", "title": null,
                 "symbolType": "square", "symbolSize": 49, "symbolStrokeColor": "#333", "symbolStrokeWidth": 1, "symbolOpacity": 1,
                 "labelFont": "Liberation Sans", "labelFontSize": 11, "labelColor": "#999", "labelOffset": 3, "labelLimit": 400,
                 "columnPadding": 25, "padding": 0, "zindex": 1}}
   }
  }
 ]
}
],
"resolve": {"scale": {"y": "independent"}, "axis": {"y": "independent"}}
}
